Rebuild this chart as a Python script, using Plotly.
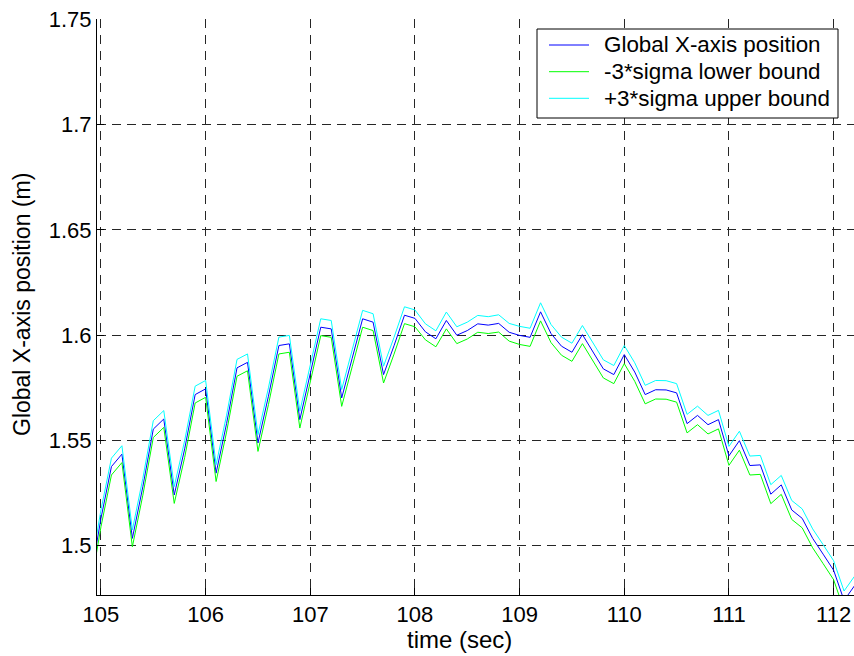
import plotly.graph_objects as go

# Time stamps (s), sampled every 0.1 s
time_s = [round(104.9 + 0.1 * i, 1) for i in range(74)]

# Estimated global X position (m)
x_position = [
    1.484, 1.513, 1.5376, 1.5435, 1.5035, 1.528, 1.5554, 1.5602, 1.5241, 1.546,
    1.5718, 1.5745, 1.5345, 1.558, 1.5845, 1.5871, 1.5488, 1.571, 1.5951, 1.5959,
    1.5599, 1.582, 1.6038, 1.6030, 1.5702, 1.589, 1.6078, 1.6062, 1.5813, 1.595,
    1.6095, 1.6080, 1.6016, 1.5983, 1.6070, 1.6000, 1.6022, 1.6054, 1.6048, 1.6056,
    1.6014, 1.5999, 1.5990, 1.6111, 1.6008, 1.5948, 1.5919, 1.6003, 1.5919, 1.5840,
    1.5813, 1.5908, 1.5825, 1.5718, 1.5741, 1.5740, 1.5726, 1.5580, 1.5619, 1.5575,
    1.5599, 1.5427, 1.5499, 1.5381, 1.5384, 1.5245, 1.5289, 1.5170, 1.5130, 1.5035,
    1.4960, 1.4884, 1.4740, 1.4810,
]

# 3*sigma half-width of the uncertainty band (m)
three_sigma = [
    0.0040, 0.0040, 0.0040, 0.0040, 0.0040, 0.0040, 0.0040, 0.0040, 0.0040, 0.0040,
    0.0040, 0.0040, 0.0040, 0.0040, 0.0040, 0.0040, 0.0040, 0.0040, 0.0040, 0.0040,
    0.0040, 0.0040, 0.0040, 0.0040, 0.0040, 0.0040, 0.0040, 0.0040, 0.0040, 0.0040,
    0.0040, 0.0040, 0.0038, 0.0038, 0.0040, 0.0040, 0.0040, 0.0040, 0.0040, 0.0041,
    0.0042, 0.0043, 0.0043, 0.0043, 0.0043, 0.0043, 0.0043, 0.0043, 0.0043, 0.0043,
    0.0043, 0.0043, 0.0044, 0.0044, 0.0044, 0.0044, 0.0044, 0.0044, 0.0044, 0.0044,
    0.0044, 0.0045, 0.0045, 0.0045, 0.0045, 0.0045, 0.0045, 0.0045, 0.0045, 0.0045,
    0.0045, 0.0045, 0.0045, 0.0045,
]

lower_bound = [p - s for p, s in zip(x_position, three_sigma)]
upper_bound = [p + s for p, s in zip(x_position, three_sigma)]

x_ticks = [105, 106, 107, 108, 109, 110, 111, 112]
y_ticks = [1.5, 1.55, 1.6, 1.65, 1.7, 1.75]
y_tick_text = ["1.5", "1.55", "1.6", "1.65", "1.7", "1.75"]

series_names = ["Global X-axis position", "-3*sigma lower bound", "+3*sigma upper bound"]
series_colors = ["rgb(0,0,255)", "rgb(0,255,0)", "rgb(0,255,255)"]
series_values = [x_position, lower_bound, upper_bound]

FONT = "Liberation Sans, Arial, Helvetica, sans-serif"

# Figure geometry in pixels
W, H = 854, 656
ML, MR, MT, MB = 97, 0, 19, 61
PW, PH = W - ML - MR, H - MT - MB


def px_x(px):
    return (px - ML) / PW


def px_y(py):
    return (H - MB - py) / PH


fig = go.Figure()
for name, color, values in zip(series_names, series_colors, series_values):
    fig.add_trace(go.Scatter(x=time_s, y=values, mode="lines", name=name,
                             showlegend=False, line=dict(color=color, width=1)))

axis_common = dict(
    showline=True, linecolor="black", linewidth=1, mirror=False,
    ticks="inside", ticklen=7, tickcolor="black",
    showgrid=True, gridcolor="#262626", gridwidth=1,
    zeroline=False,
    tickfont=dict(family=FONT, size=22, color="black"),
)

fig.update_xaxes(range=[104.962, 112.195], tickvals=x_ticks,
                 griddash="9px,7px", **axis_common)
fig.update_yaxes(range=[1.4766, 1.7502], tickvals=y_ticks, ticktext=y_tick_text,
                 griddash="9px,6px", **axis_common)

# Axis titles
fig.add_annotation(text="time (sec)", xref="paper", yref="paper",
                   x=px_x(459), y=px_y(639), xanchor="center", yanchor="middle",
                   showarrow=False, font=dict(family=FONT, size=24, color="black"))
fig.add_annotation(text="Global X-axis position (m)", xref="paper", yref="paper",
                   x=px_x(22), y=px_y(305), xanchor="center", yanchor="middle",
                   textangle=-90, showarrow=False,
                   font=dict(family=FONT, size=23, color="black"))

# Legend box with line samples and labels
legend_left, legend_right, legend_top, legend_bottom = 537, 838, 29, 118
fig.add_shape(type="rect", xref="paper", yref="paper",
              x0=px_x(legend_left), x1=px_x(legend_right),
              y0=px_y(legend_bottom), y1=px_y(legend_top),
              line=dict(color="black", width=1), fillcolor="white", layer="above")
row_y = [45, 71.7, 98.3]
for name, color, ry in zip(series_names, series_colors, row_y):
    fig.add_shape(type="line", xref="paper", yref="paper",
                  x0=px_x(549), x1=px_x(589), y0=px_y(ry), y1=px_y(ry),
                  line=dict(color=color, width=1), layer="above")
    fig.add_annotation(text=name, xref="paper", yref="paper",
                       x=px_x(602), y=px_y(ry), xanchor="left", yanchor="middle",
                       showarrow=False, font=dict(family=FONT, size=22.4, color="black"))

fig.update_layout(
    width=W, height=H,
    margin=dict(l=ML, r=MR, t=MT, b=MB),
    paper_bgcolor="white", plot_bgcolor="white",
    font=dict(family=FONT, size=22, color="black"),
    showlegend=False,
)

fig.write_html("out.html")
